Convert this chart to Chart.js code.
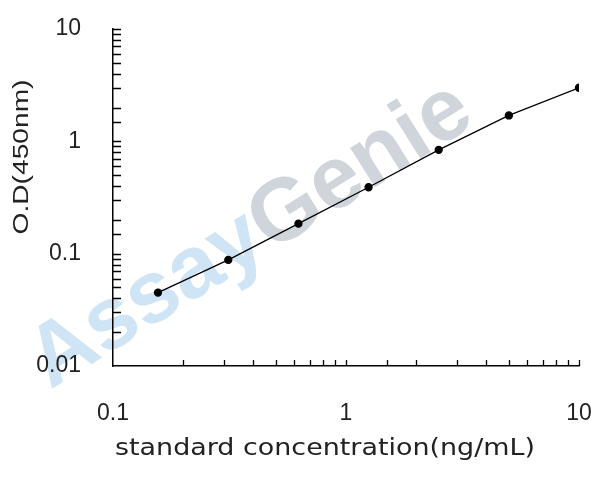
<!DOCTYPE html>
<html lang="en">
<head>
  <meta charset="UTF-8">
  <title>Standard curve</title>
  <script src="https://cdn.jsdelivr.net/npm/chart.js"></script>
  <style>
    body { margin: 0; background: #fff; }
  </style>
</head>
<body>

  <canvas id="curve" width="608" height="480"></canvas>

  <script>
    // standard concentrations (ng/mL) and measured OD
    const concentrations = [0.156, 0.3125, 0.625, 1.25, 2.5, 5, 10];
    const odValues = [0.045, 0.088, 0.185, 0.39, 0.84, 1.7, 3.0];
    const xTickLabels = ['0.1', '1', '10'];
    const yTickLabels = ['0.01', '0.1', '1', '10'];

    const labelFont = { family: '"Liberation Sans", Arial, sans-serif', size: 23 };

    function majorLabel(list) {
      return function (value) {
        const s = String(Number(value.toPrecision(6)));
        return list.includes(s) ? s : '';
      };
    }

    // small tick marks pointing into the plot
    const innerTicks = {
      id: 'innerTicks',
      afterDatasetsDraw(chart) {
        const ctx = chart.ctx;
        const x = chart.scales.x, y = chart.scales.y;
        ctx.save();
        ctx.strokeStyle = '#000';
        ctx.lineWidth = 1.3;
        ctx.beginPath();
        x.ticks.forEach(t => {
          if (t.value <= x.min) return;
          const px = Math.round(x.getPixelForValue(t.value)) + 0.5;
          ctx.moveTo(px, y.bottom);
          ctx.lineTo(px, y.bottom - 6);
        });
        y.ticks.forEach(t => {
          if (t.value <= y.min) return;
          const py = Math.round(y.getPixelForValue(t.value)) + 0.5;
          ctx.moveTo(x.left, py);
          ctx.lineTo(x.left + 8, py);
        });
        ctx.stroke();
        ctx.restore();
      }
    };

    // faint logo text, painted before the axes so labels stay on top
    const watermark = {
      id: 'watermark',
      beforeDraw(chart) {
        const ctx = chart.ctx;
        ctx.save();
        ctx.translate(251, 236);
        ctx.rotate(-32 * Math.PI / 180);
        ctx.font = 'bold 88px "Liberation Sans", Arial';
        ctx.textBaseline = 'middle';
        const a = 'Assay', g = 'Genie';
        const wa = ctx.measureText(a).width;
        const wg = ctx.measureText(g).width;
        const start = -(wa + wg) / 2;
        ctx.fillStyle = '#cfe5f5';
        ctx.fillText(a, start, 0);
        ctx.fillStyle = '#d0d5db';
        ctx.fillText(g, start + wa, 0);
        ctx.restore();
      }
    };

    // text squeezed or stretched to a given length
    function fitText(ctx, text, cx, cy, length) {
      const w = ctx.measureText(text).width;
      ctx.save();
      ctx.translate(cx, cy);
      ctx.scale(length / w, 1);
      ctx.fillText(text, 0, 0);
      ctx.restore();
    }

    // axis titles drawn as plain text
    const axisTitles = {
      id: 'axisTitles',
      afterDraw(chart) {
        const ctx = chart.ctx;
        ctx.save();
        ctx.fillStyle = '#222';
        ctx.textAlign = 'center';
        ctx.textBaseline = 'middle';
        ctx.font = '23px "DejaVu Sans", Verdana, sans-serif';
        fitText(ctx, 'standard concentration(ng/mL)', 325, 449, 420);
        ctx.translate(22, 157);
        ctx.rotate(-Math.PI / 2);
        ctx.font = '22px "Liberation Sans", Arial';
        fitText(ctx, 'O.D(450nm)', 0, 0, 155);
        ctx.restore();
      }
    };

    new Chart(document.getElementById('curve'), {
      type: 'line',
      data: {
        datasets: [{
          data: concentrations.map((c, i) => ({ x: c, y: odValues[i] })),
          borderColor: '#000',
          borderWidth: 1.3,
          pointBackgroundColor: '#000',
          pointBorderColor: '#000',
          pointRadius: 3.5,
          tension: 0
        }]
      },
      options: {
        responsive: false,
        animation: false,
        devicePixelRatio: 1,
        layout: { padding: { top: 29, right: 29, left: 0, bottom: 0 } },
        plugins: { legend: { display: false }, tooltip: { enabled: false } },
        scales: {
          x: {
            type: 'logarithmic',
            min: 0.1,
            max: 10,
            border: { display: true, color: '#000', width: 1.5 },
            grid: { display: false },
            ticks: {
              color: '#222',
              font: labelFont,
              padding: 26,
              autoSkip: false,
              maxRotation: 0,
              callback: majorLabel(xTickLabels)
            },
            afterFit(scale) {
              scale.height = 114;
              scale.paddingLeft = 0;
              scale.paddingRight = 0;
            }
          },
          y: {
            type: 'logarithmic',
            min: 0.01,
            max: 10,
            border: { display: true, color: '#000', width: 1.5 },
            grid: { display: false },
            ticks: {
              color: '#222',
              font: labelFont,
              padding: 24,
              autoSkip: false,
              callback: majorLabel(yTickLabels)
            },
            afterFit(scale) {
              scale.width = 113;
              scale.paddingTop = 0;
              scale.paddingBottom = 0;
            }
          }
        }
      },
      plugins: [watermark, innerTicks, axisTitles]
    });
  </script>

</body>
</html>
